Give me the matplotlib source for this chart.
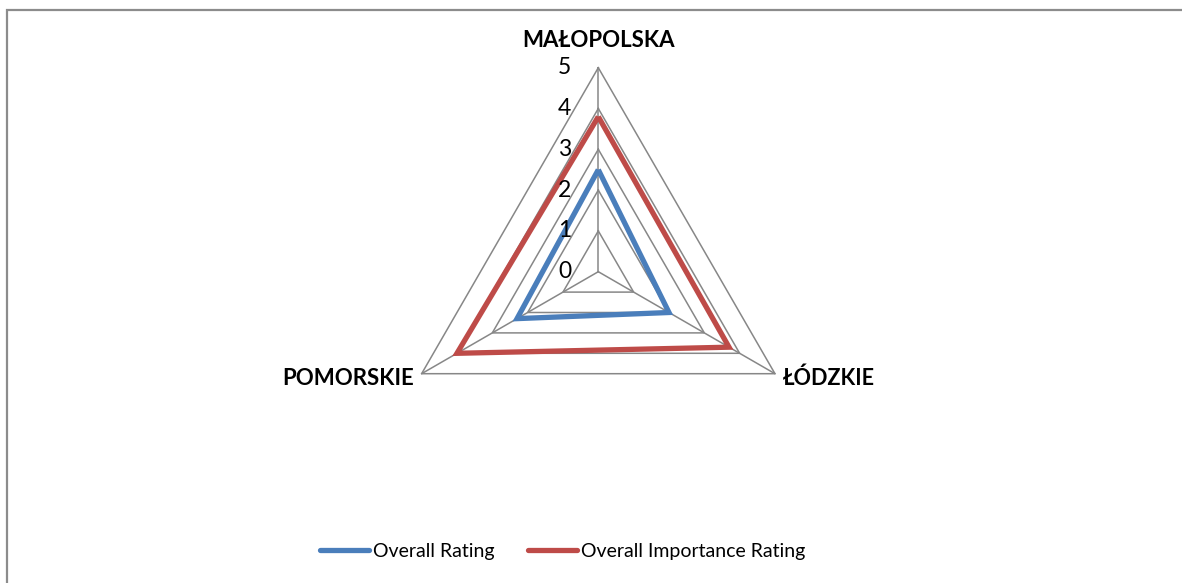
import numpy as np
import matplotlib
matplotlib.use("Agg")
import matplotlib.pyplot as plt
from matplotlib.lines import Line2D
from matplotlib.patches import Rectangle

# Data
categories = ["MAŁOPOLSKA", "ŁÓDZKIE", "POMORSKIE"]
overall_rating = [2.5, 2.0, 2.3]
importance_rating = [3.8, 3.7, 4.0]
series_names = ["Overall Rating", "Overall Importance Rating"]
tick_values = [0, 1, 2, 3, 4, 5]
r_max = 5

BLUE = "#4A7EBB"
RED = "#BE4B48"
GRID = "#878787"

plt.rcParams["font.family"] = ["Lato", "DejaVu Sans"]

W, H, DPI = 1182, 583, 100
fig = plt.figure(figsize=(W / DPI, H / DPI), dpi=DPI)
ax = fig.add_axes([0, 0, 1, 1])

# pixel layout of the radar: centre and size of one unit
cx, cy, unit = 598.3, 271.7, 40.8
ax.set_xlim(-cx / unit, (W - cx) / unit)
ax.set_ylim((cy - H) / unit, cy / unit)
ax.set_aspect("equal")
ax.axis("off")

# axis directions: first category on top, clockwise
n = len(categories)
angles = np.pi / 2 - 2 * np.pi * np.arange(n) / n
ux, uy = np.cos(angles), np.sin(angles)


def polygon(vals):
    v = np.asarray(vals, dtype=float)
    xs = np.append(v * ux, v[0] * ux[0])
    ys = np.append(v * uy, v[0] * uy[0])
    return xs, ys


# grid rings and spokes
for t in tick_values[1:]:
    xs, ys = polygon([t] * n)
    ax.plot(xs, ys, color=GRID, lw=1.1, solid_joinstyle="miter", zorder=1)
for i in range(n):
    ax.plot([0, r_max * ux[i]], [0, r_max * uy[i]], color=GRID, lw=1.1, zorder=1)

# series
for vals, col, name in [(overall_rating, BLUE, series_names[0]),
                        (importance_rating, RED, series_names[1])]:
    xs, ys = polygon(vals)
    ax.plot(xs, ys, color=col, lw=3.8, solid_joinstyle="miter",
            solid_capstyle="butt", zorder=3, label=name)

# value labels along the top spoke
for t in tick_values:
    ax.text(-0.66, t, str(t), ha="right", va="center", fontsize=16.5,
            color="black", zorder=4)

# category labels
ax.text(0, r_max + 0.66, categories[0], ha="center", va="center",
        fontsize=16, fontweight="bold")
ax.text(r_max * ux[1] + 0.18, r_max * uy[1] - 0.12, categories[1], ha="left",
        va="center", fontsize=15.5, fontweight="bold")
ax.text(r_max * ux[2] - 0.18, r_max * uy[2] - 0.12, categories[2], ha="right",
        va="center", fontsize=16, fontweight="bold")

# outer chart border
fig.patches.append(Rectangle((7 / W, -0.1), 1.2, 1 - 10 / H + 0.1,
                             transform=fig.transFigure, fill=False,
                             edgecolor="#8c8c8c", lw=1.6))

handles = [Line2D([], [], color=BLUE, lw=3.8, solid_capstyle="round"),
           Line2D([], [], color=RED, lw=3.8, solid_capstyle="round")]
fig.legend(handles, series_names, loc="center", bbox_to_anchor=(562.5 / W, 1 - 551 / H),
           ncol=2, frameon=False, fontsize=14, handlelength=2.5,
           handletextpad=0.2, columnspacing=1.75)

fig.savefig("out.png", dpi=DPI)
